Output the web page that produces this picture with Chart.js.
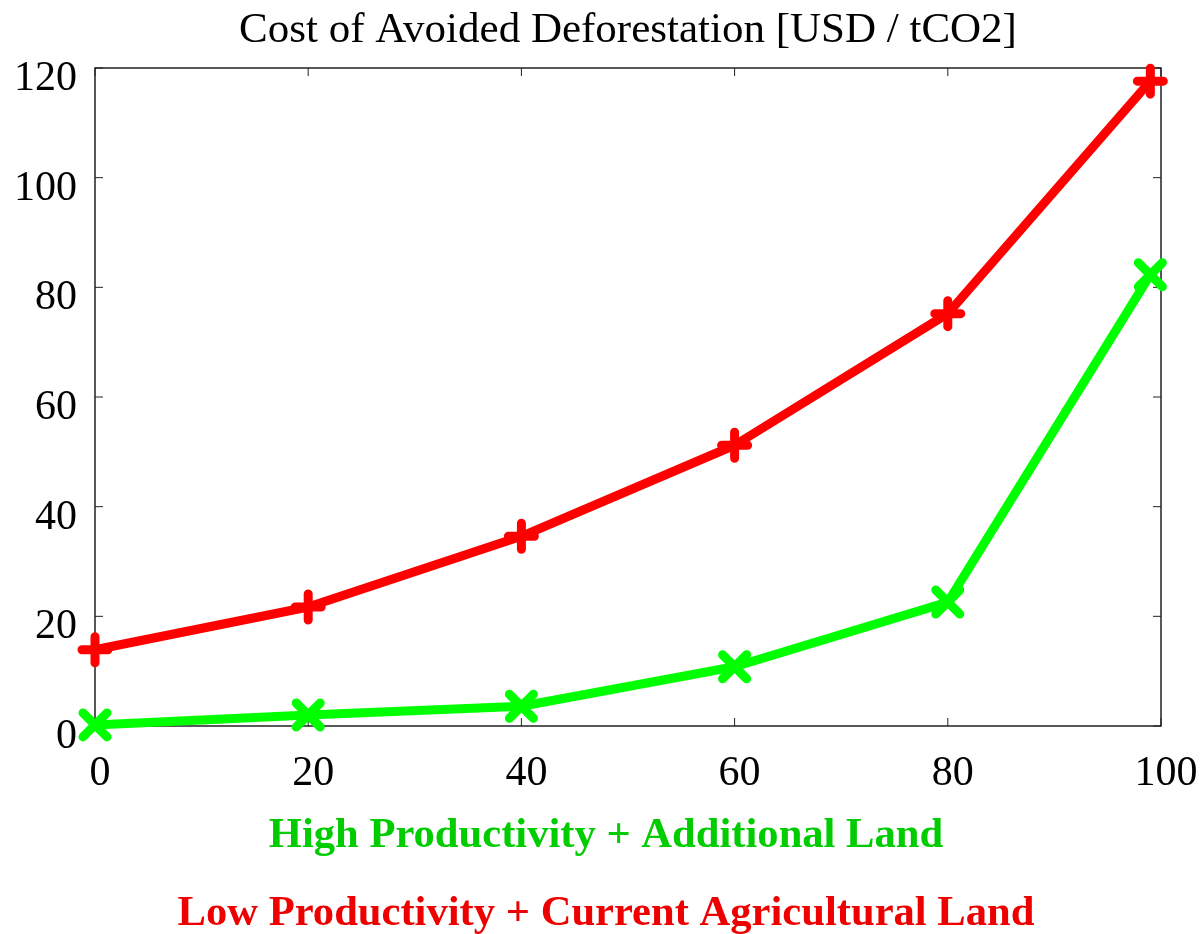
<!DOCTYPE html>
<html>
<head>
<meta charset="utf-8">
<title>Cost of Avoided Deforestation</title>
<script src="https://cdn.jsdelivr.net/npm/chart.js@4.4.1/dist/chart.umd.min.js"></script>
<style>
  html, body { margin: 0; padding: 0; background: #fff; }
  #wrap { width: 1203px; height: 934px; }
</style>
</head>
<body>
<div id="wrap"><canvas id="costChart" width="1203" height="934"></canvas></div>
<script>
// Data
const xValues = [0, 20, 40, 60, 80, 99];
const lowProdCurrentLand = [13.9, 21.7, 34.6, 51.2, 75.2, 117.6];
const highProdAdditionalLand = [0.2, 2.0, 3.6, 10.8, 22.6, 82.3];
const seriesNames = ['High Productivity + Additional Land', 'Low Productivity + Current Agricultural Land'];
const titleText = 'Cost of Avoided Deforestation [USD / tCO2]';
const xTicks = [0, 20, 40, 60, 80, 100];
const yTicks = [0, 20, 40, 60, 80, 100, 120];

const serif = '"Liberation Serif", "Times New Roman", serif';

function toPoints(ys) {
    return xValues.map((x, i) => ({ x: x, y: ys[i] }));
}

// Box around the plot with inward ticks on all four sides (gnuplot style)
const frameTicks = {
    id: 'frameTicks',
    beforeDatasetsDraw(chart) {
        const { ctx, chartArea: a, scales } = chart;
        const len = 8;
        ctx.save();
        ctx.strokeStyle = '#222';
        ctx.lineWidth = 1.5;
        ctx.strokeRect(a.left, a.top, a.right - a.left, a.bottom - a.top);
        ctx.lineWidth = 1;
        ctx.beginPath();
        xTicks.forEach(v => {
            const px = scales.x.getPixelForValue(v);
            ctx.moveTo(px, a.bottom); ctx.lineTo(px, a.bottom - len);
            ctx.moveTo(px, a.top); ctx.lineTo(px, a.top + len);
        });
        yTicks.forEach(v => {
            const py = scales.y.getPixelForValue(v);
            ctx.moveTo(a.left, py); ctx.lineTo(a.left + len, py);
            ctx.moveTo(a.right, py); ctx.lineTo(a.right - len, py);
        });
        ctx.stroke();
        ctx.restore();
        // rounded ends for the point markers
        ctx.lineCap = 'round';
    }
};

// Title centred over the plot, series names under the axis in their colours
const textBlocks = {
    id: 'textBlocks',
    afterDraw(chart) {
        const { ctx, chartArea: a } = chart;
        ctx.save();
        ctx.textAlign = 'center';
        ctx.textBaseline = 'alphabetic';
        ctx.fillStyle = '#000';
        ctx.font = '43px ' + serif;
        ctx.fillText(titleText, (a.left + a.right) / 2, 42);

        const colours = ['#00cc00', '#ee0000'];
        const baselines = [847, 925];
        ctx.font = 'bold 42.6px ' + serif;
        seriesNames.forEach((name, i) => {
            ctx.fillStyle = colours[i];
            ctx.fillText(name, 606, baselines[i]);
        });
        ctx.restore();
    }
};

new Chart(document.getElementById('costChart'), {
    type: 'line',
    data: {
        datasets: [{
            label: seriesNames[1],
            data: toPoints(lowProdCurrentLand),
            borderColor: '#ff0000',
            backgroundColor: '#ff0000',
            borderWidth: 9,
            borderCapStyle: 'round',
            borderJoinStyle: 'round',
            pointStyle: 'cross',
            pointRadius: 13,
            pointBorderWidth: 9,
            pointBorderColor: '#ff0000',
            clip: false
        }, {
            label: seriesNames[0],
            data: toPoints(highProdAdditionalLand),
            borderColor: '#00ff00',
            backgroundColor: '#00ff00',
            borderWidth: 9,
            borderCapStyle: 'round',
            borderJoinStyle: 'round',
            pointStyle: 'crossRot',
            pointRadius: 17,
            pointBorderWidth: 9,
            pointBorderColor: '#00ff00',
            clip: false
        }]
    },
    options: {
        responsive: false,
        animation: false,
        layout: {
            padding: { left: 0, right: 42, top: 68, bottom: 134 }
        },
        plugins: {
            legend: { display: false },
            tooltip: { enabled: false },
            title: { display: false }
        },
        scales: {
            x: {
                type: 'linear',
                min: 0,
                max: 100,
                afterFit: function(scale) {
                    scale.height = 74;
                    scale.paddingLeft = 0;
                    scale.paddingRight = 0;
                },
                grid: { display: false, drawTicks: false },
                border: { display: false },
                ticks: {
                    stepSize: 20,
                    color: '#000',
                    padding: 23,
                    labelOffset: 5,
                    maxRotation: 0,
                    font: { family: serif, size: 42 }
                }
            },
            y: {
                min: 0,
                max: 120,
                afterFit: function(scale) {
                    scale.width = 95;
                    scale.paddingTop = 0;
                    scale.paddingBottom = 0;
                },
                grid: { display: false, drawTicks: false },
                border: { display: false },
                ticks: {
                    stepSize: 20,
                    color: '#000',
                    padding: 18,
                    labelOffset: 11,
                    font: { family: serif, size: 42 }
                }
            }
        }
    },
    plugins: [frameTicks, textBlocks]
});
</script>
</body>
</html>
